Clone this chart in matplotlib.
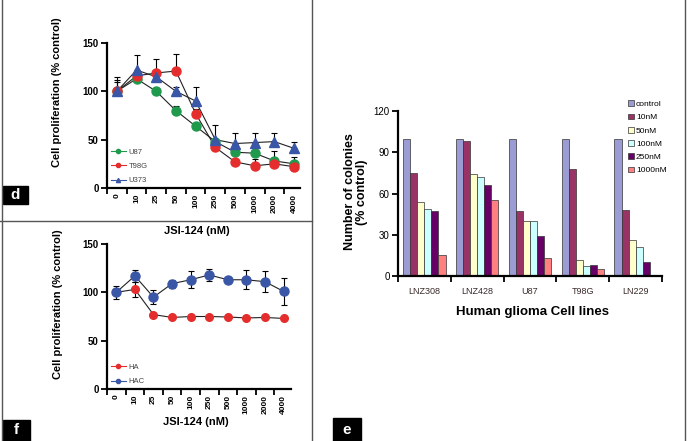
import numpy as np
import matplotlib
matplotlib.use('Agg')
import matplotlib.pyplot as plt
from matplotlib.patches import Rectangle
from matplotlib.lines import Line2D

plt.rcParams['font.family'] = ['Liberation Sans', 'DejaVu Sans']

# Daten
doses = ['0', '10', '25', '50', '100', '250', '500', '1000', '2000', '4000']

u87 = [100, 113, 100, 80, 64, 48, 37, 36, 28, 25]
u87_err = [12, 3, 2, 5, 3, 3, 3, 3, 10, 7]
t98g = [100, 116, 119, 121, 77, 42, 27, 23, 25, 22]
t98g_err = [15, 5, 14, 18, 5, 5, 3, 7, 3, 3]
u373 = [100, 122, 115, 100, 90, 50, 46, 47, 48, 41]
u373_err = [10, 16, 5, 5, 15, 15, 11, 10, 9, 7]

ha = [100, 103, 77, 74, 75, 75, 74.5, 73.5, 74, 73]
ha_err = [3, 8, 2, 1, 1, 1, 1, 1, 1, 1]
hac = [100, 117, 95, 109, 113, 118, 113, 113, 111, 101]
hac_err = [7, 6, 7, 4, 9, 6, 2, 10, 11, 14]

cell_lines = ['LNZ308', 'LNZ428', 'U87', 'T98G', 'LN229']
conc_labels = ['control', '10nM', '50nM', '100nM', '250nM', '1000nM']
colonies = {
    'control': [100, 100, 100, 100, 100],
    '10nM':    [75, 98, 47, 78, 48],
    '50nM':    [54, 74, 40, 12, 26],
    '100nM':   [49, 72, 40, 7, 21],
    '250nM':   [47, 66, 29, 8, 10],
    '1000nM':  [15, 55, 13, 5, 0.7],
}
bar_colors = ['#9c9cd4', '#993366', '#ffffcc', '#ccffff', '#660066', '#ff8080']

W, H = 687, 441
fig = plt.figure(figsize=(6.87, 4.41), dpi=100)

def ax_at(l, r, b, t):
    return fig.add_axes([l / W, 1 - b / H, (r - l) / W, (b - t) / H])

def style_line_ax(ax):
    for s in ['top', 'right']:
        ax.spines[s].set_visible(False)
    for s in ['left', 'bottom']:
        ax.spines[s].set_linewidth(1.6)
    x = np.arange(len(doses))
    ax.set_xticks(x - 0.5)
    ax.set_xticklabels([])
    ax.set_xticks(x, minor=True)
    ax.set_xticklabels(doses, minor=True, rotation=90, fontsize=6, fontweight='bold')
    ax.tick_params(axis='x', which='minor', length=0, pad=4)
    ax.tick_params(axis='x', which='major', length=4, width=1.3)
    ax.set_ylim(0, 150)
    ax.set_yticks([0, 50, 100, 150])
    ax.tick_params(axis='y', length=4, width=1.3, labelsize=7, pad=2)
    for t in ax.get_yticklabels():
        t.set_fontweight('bold')

# Panel d
axd = ax_at(107, 300, 188, 43)
x = np.arange(len(doses))
for y, e, c, m, lab in [(u87, u87_err, '#1f9a4c', 'o', 'U87'),
                        (t98g, t98g_err, '#e52d2d', 'o', 'T98G'),
                        (u373, u373_err, '#3a56a6', '^', 'U373')]:
    axd.errorbar(x, y, yerr=[np.zeros(len(e)), e], fmt='none', ecolor='black',
                 elinewidth=0.8, capsize=2, capthick=0.8, zorder=1)
    axd.plot(x, y, '-', color='#222222', lw=0.8, zorder=2)
    axd.plot(x, y, m, color=c, ms=6.5, mec=c, zorder=3)
axd.set_xlim(-0.5, 9.3)
style_line_ax(axd)
hd = [Line2D([], [], color='#1f9a4c', marker='o', ms=3, lw=0.8),
      Line2D([], [], color='#e52d2d', marker='o', ms=3, lw=0.8),
      Line2D([], [], color='#3a56a6', marker='^', ms=3, lw=0.8)]
axd.legend(hd, ['U87', 'T98G', 'U373'], loc='lower left', frameon=False,
           fontsize=5.5, handlelength=2, handletextpad=0.3, labelspacing=0.9,
           borderaxespad=0.1, labelcolor='#444444')

# Panel f
axf = ax_at(107, 291, 389, 244)
for y, e, c, lab in [(ha, ha_err, '#e52d2d', 'HA'), (hac, hac_err, '#3a56a6', 'HAC')]:
    axf.errorbar(x, y, yerr=e, fmt='none', ecolor='black', elinewidth=0.8,
                 capsize=2, capthick=0.8, zorder=1)
    axf.plot(x, y, '-', color='#222222', lw=0.8, zorder=2)
    axf.plot(x, y, 'o', color=c, ms=6.5 if lab == 'HAC' else 5.5, zorder=3)
axf.set_xlim(-0.45, 9.4)
style_line_ax(axf)
hf = [Line2D([], [], color='#e52d2d', marker='o', ms=3, lw=0.8),
      Line2D([], [], color='#3a56a6', marker='o', ms=3, lw=0.8)]
axf.legend(hf, ['HA', 'HAC'], loc='lower left', frameon=False,
           fontsize=5.5, handlelength=2, handletextpad=0.3, labelspacing=0.9,
           borderaxespad=0.1, labelcolor='#444444')

# Panel e
axe = ax_at(398, 662, 276, 111)
n = len(conc_labels)
bw = 0.8 / n
gx = np.arange(len(cell_lines))
for i, k in enumerate(conc_labels):
    axe.bar(gx - 0.4 + bw * (i + 0.5), colonies[k], width=bw, color=bar_colors[i],
            edgecolor='#333333', linewidth=0.5, label=k)
axe.set_xlim(-0.5, 4.5)
axe.set_ylim(0, 120)
axe.set_yticks([0, 30, 60, 90, 120])
for s in ['top', 'right']:
    axe.spines[s].set_visible(False)
for s in ['left', 'bottom']:
    axe.spines[s].set_linewidth(1.6)
axe.set_xticks(np.arange(6) - 0.5)
axe.set_xticklabels([])
axe.set_xticks(gx, minor=True)
axe.set_xticklabels(cell_lines, minor=True, fontsize=6.5, color='#3a2a2a')
axe.tick_params(axis='x', which='minor', length=0, pad=8)
axe.tick_params(axis='x', which='major', length=4, width=1.3)
axe.tick_params(axis='y', length=4, width=1.3, labelsize=7, pad=2)
axe.legend(loc='upper left', bbox_to_anchor=(0.86, 1.085), frameon=False,
           fontsize=6, handlelength=0.7, handleheight=0.7, handletextpad=0.2,
           labelspacing=0.65, borderaxespad=0)

# Achsenbeschriftungen
fig.text(57 / W, 1 - 92 / H, 'Cell proliferation (% control)', rotation=90,
         ha='center', va='center', fontsize=8, fontweight='bold')
fig.text(58 / W, 1 - 304 / H, 'Cell proliferation (% control)', rotation=90,
         ha='center', va='center', fontsize=8, fontweight='bold')
fig.text(197 / W, 1 - 231 / H, 'JSI-124 (nM)', ha='center', va='center',
         fontsize=8, fontweight='bold')
fig.text(196 / W, 1 - 422 / H, 'JSI-124 (nM)', ha='center', va='center',
         fontsize=8, fontweight='bold')
fig.text(356 / W, 1 - 192 / H, 'Number of colonies\n(% control)', rotation=90,
         ha='center', va='center', fontsize=9, fontweight='bold',
         multialignment='center', linespacing=1.1)
fig.text(533 / W, 1 - 312 / H, 'Human glioma Cell lines', ha='center', va='center',
         fontsize=9.5, fontweight='bold')

# Panel-Buchstaben
for (l, t, r, b, s) in [(3, 186, 28, 204, 'd'), (3, 420, 30, 441, 'f'), (333, 418, 361, 441, 'e')]:
    fig.patches.append(Rectangle((l / W, 1 - b / H), (r - l) / W, (b - t) / H,
                                 transform=fig.transFigure, color='black'))
    fig.text((l + r) / 2 / W, 1 - (t + b) / 2 / H, s, color='white', ha='center',
             va='center', fontsize=11, fontweight='bold')

# Trennlinien
lc = '#555555'
fig.add_artist(Line2D([312 / W, 312 / W], [0, 1], color=lc, lw=1))
fig.add_artist(Line2D([0, 312 / W], [1 - 221 / H, 1 - 221 / H], color=lc, lw=1))
fig.add_artist(Line2D([1.5 / W, 1.5 / W], [0, 1], color=lc, lw=1))
fig.add_artist(Line2D([685 / W, 685 / W], [0, 1], color=lc, lw=1))

fig.savefig('out.png', dpi=100)
